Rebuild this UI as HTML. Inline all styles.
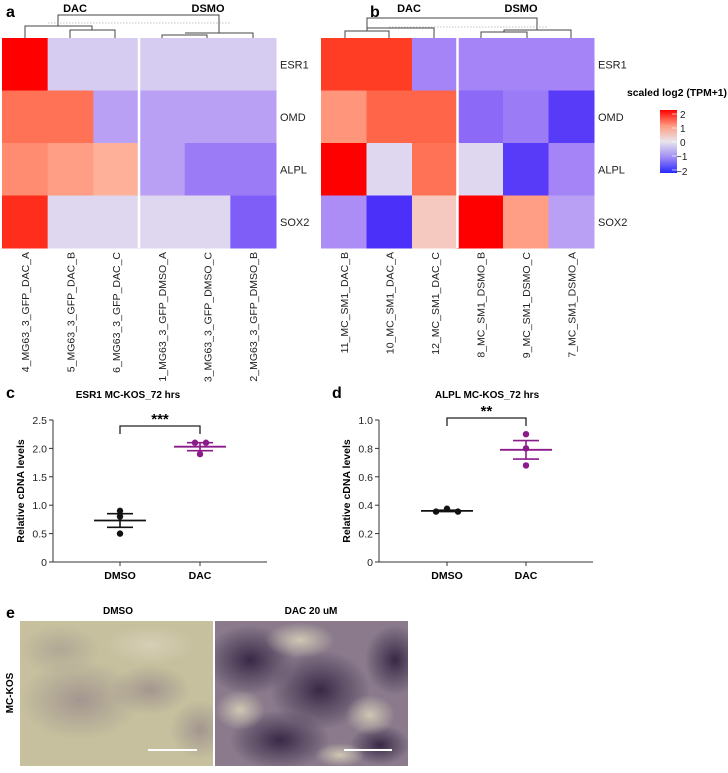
<!DOCTYPE html>
<html><head><meta charset="utf-8"><style>
body{margin:0;background:#fff;width:728px;height:768px;overflow:hidden}
svg{font-family:"Liberation Sans",Arial,sans-serif}
</style></head><body>
<svg id="fig" width="728" height="768" viewBox="0 0 728 768">
<defs>
<linearGradient id="cbar" x1="0" y1="1" x2="0" y2="0">
<stop offset="0" stop-color="#2828ff"/><stop offset="0.25" stop-color="#a08cf4"/><stop offset="0.5" stop-color="#e8e4ec"/><stop offset="0.75" stop-color="#ff9a80"/><stop offset="1" stop-color="#ff0000"/>
</linearGradient>
<radialGradient id="dm1" cx="0.5" cy="0.5" r="0.5"><stop offset="0" stop-color="#8c7a86" stop-opacity="0.6"/><stop offset="1" stop-color="#8c7a86" stop-opacity="0"/></radialGradient>
<radialGradient id="dk1" cx="0.5" cy="0.5" r="0.5"><stop offset="0" stop-color="#2a1a3a" stop-opacity="0.85"/><stop offset="1" stop-color="#2a1a3a" stop-opacity="0"/></radialGradient>
<radialGradient id="lt1" cx="0.5" cy="0.5" r="0.5"><stop offset="0" stop-color="#d8d0b8" stop-opacity="0.9"/><stop offset="1" stop-color="#d8d0b8" stop-opacity="0"/></radialGradient>
<clipPath id="clipL"><rect x="20" y="621" width="193" height="145"/></clipPath>
<clipPath id="clipR"><rect x="215" y="621" width="193" height="145"/></clipPath>
</defs>
<g id="heatA"></g>
<g id="heatB"></g>
<g id="legend">
<text x="627" y="96" font-size="10.5" font-weight="bold" textLength="100" lengthAdjust="spacingAndGlyphs">scaled log2 (TPM+1)</text>
<rect x="660" y="110" width="17" height="63" fill="url(#cbar)"/>
<g font-size="10" fill="#222">
<text x="680" y="118">2</text><text x="680" y="132">1</text><text x="680" y="146">0</text><text x="676" y="160">−1</text><text x="676" y="175">−2</text>
</g>
<g stroke="#fff" stroke-width="0.8" opacity="0.8"><line x1="672" y1="114" x2="677" y2="114"/><line x1="672" y1="128" x2="677" y2="128"/><line x1="672" y1="142" x2="677" y2="142"/><line x1="672" y1="156" x2="677" y2="156"/><line x1="672" y1="170" x2="677" y2="170"/></g>
</g>
<g id="plotC"></g>
<g id="plotD"></g>
<g id="panelE">
<text x="6" y="618" font-size="16" font-weight="bold">e</text>
<text x="118" y="614" font-size="10" font-weight="bold" text-anchor="middle">DMSO</text>
<text x="311" y="614" font-size="10" font-weight="bold" text-anchor="middle">DAC 20 uM</text>
<text x="0" y="0" font-size="10" font-weight="bold" text-anchor="middle" transform="translate(13,693) rotate(-90)">MC-KOS</text>
<g clip-path="url(#clipL)">
<rect x="20" y="621" width="193" height="145" fill="#c6c09e"/>
<ellipse cx="80" cy="700" rx="60" ry="40" fill="url(#dm1)"/>
<ellipse cx="150" cy="690" rx="40" ry="25" fill="url(#dm1)"/>
<ellipse cx="60" cy="650" rx="40" ry="25" fill="url(#dm1)" opacity="0.6"/>
<ellipse cx="200" cy="730" rx="30" ry="30" fill="url(#dm1)"/>
<ellipse cx="150" cy="645" rx="45" ry="20" fill="url(#lt1)"/>
<line x1="148" y1="750" x2="197" y2="750" stroke="#fff" stroke-width="2"/>
</g>
<g clip-path="url(#clipR)">
<rect x="215" y="621" width="193" height="145" fill="#8a7a8c"/>
<ellipse cx="250" cy="660" rx="45" ry="35" fill="url(#dk1)"/>
<ellipse cx="320" cy="690" rx="50" ry="40" fill="url(#dk1)"/>
<ellipse cx="280" cy="740" rx="50" ry="30" fill="url(#dk1)"/>
<ellipse cx="395" cy="660" rx="30" ry="35" fill="url(#dk1)"/>
<ellipse cx="380" cy="745" rx="30" ry="20" fill="url(#dk1)"/>
<ellipse cx="300" cy="640" rx="35" ry="18" fill="url(#lt1)"/>
<ellipse cx="370" cy="715" rx="25" ry="20" fill="url(#lt1)"/>
<ellipse cx="240" cy="710" rx="25" ry="20" fill="url(#lt1)"/>
<ellipse cx="340" cy="755" rx="25" ry="12" fill="url(#lt1)"/>
<line x1="344" y1="750" x2="392" y2="750" stroke="#fff" stroke-width="2"/>
</g>
</g>
</svg>
<script>
const NS='http://www.w3.org/2000/svg';
function mk(p,t,a){const e=document.createElementNS(NS,t);for(const k in a)e.setAttribute(k,a[k]);p.appendChild(e);return e;}
// ---- heatmap data ----
const genes=['ESR1','OMD','ALPL','SOX2'];
const samplesA=['4_MG63_3_GFP_DAC_A','5_MG63_3_GFP_DAC_B','6_MG63_3_GFP_DAC_C','1_MG63_3_GFP_DMSO_A','3_MG63_3_GFP_DMSO_C','2_MG63_3_GFP_DMSO_B'];
const valuesA=[[2,-0.4,-0.4,-0.4,-0.4,-0.4],[1.2,1.2,-0.9,-0.9,-0.9,-0.9],[1.0,0.8,0.6,-0.9,-1.3,-1.3],[1.7,-0.2,-0.2,-0.2,-0.2,-1.6]];
const samplesB=['11_MC_SM1_DAC_B','10_MC_SM1_DAC_A','12_MC_SM1_DAC_C','8_MC_SM1_DSMO_B','9_MC_SM1_DSMO_C','7_MC_SM1_DSMO_A'];
const valuesB=[[1.6,1.6,-1.2,-1.2,-1.2,-1.2],[0.9,1.3,1.3,-1.5,-1.3,-1.9],[2,-0.2,1.2,-0.2,-1.9,-1.2],[-1.1,-2,0.3,2,0.8,-0.9]];
const stops=[[-2,[75,48,250]],[-1.5,[140,105,247]],[-1,[180,150,245]],[-0.5,[210,198,242]],[0,[232,226,238]],[0.5,[255,185,162]],[1,[255,140,112]],[1.5,[255,75,45]],[2,[255,0,0]]];
function col(v){v=Math.max(-2,Math.min(2,v));for(let i=0;i<stops.length-1;i++){const[a,ca]=stops[i],[b,cb]=stops[i+1];if(v<=b){const t=(v-a)/(b-a);return 'rgb('+ca.map((c,j)=>Math.round(c+(cb[j]-c)*t)).join(',')+')';}}return 'rgb(255,0,0)';}
function heat(g,x0,w,vals,samples,label){
  const y0=38,h=210,cw=w/6,rh=h/4;
  vals.forEach((row,r)=>row.forEach((v,c)=>{
    const e=mk(g,'rect',{x:x0+c*cw,y:y0+r*rh,width:cw+0.5,height:rh+0.5,fill:col(v)});
    
    
  }));
  mk(g,'line',{x1:x0+3*cw,y1:y0,x2:x0+3*cw,y2:y0+h,stroke:'#fff','stroke-width':2.5});
  genes.forEach((n,r)=>{const t=mk(g,'text',{x:x0+w+4,y:y0+r*rh+rh/2+4,'font-size':11,fill:'#222'});t.textContent=n;
    
    });
  samples.forEach((n,c)=>{const cx=x0+c*cw+cw/2+4;const t=mk(g,'text',{x:0,y:0,'font-size':10.5,fill:'#222','text-anchor':'end',transform:'translate('+cx+',252) rotate(-90)'});t.textContent=n;
    
    });
  const p=mk(g,'text',{x:label=='a'?6:370,y:17,'font-size':16,'font-weight':'bold'});p.textContent=label;
  
  
}
const hA=document.getElementById('heatA'),hB=document.getElementById('heatB');
heat(hA,2,274,valuesA,samplesA,'a');heat(hB,321,273,valuesB,samplesB,'b');
function dendro(g,segs,dot,labels){
  const d=segs.map(s=>'M'+s[0]+' '+s[1]+'V'+s[2]+'H'+s[3]+'V'+s[4]).join('');
  const e=mk(g,'path',{d:d,fill:'none',stroke:'#444','stroke-width':1});
  
  
  mk(g,'line',{x1:dot[0],y1:dot[2],x2:dot[1],y2:dot[2],stroke:'#888','stroke-width':0.6,'stroke-dasharray':'1.5,1.5'});
  labels.forEach(l=>{const t=mk(g,'text',{x:l[1],y:12,'font-size':11,'font-weight':'bold','text-anchor':'middle'});t.textContent=l[0];
    
    });
}
dendro(hA,[[58,26,15,219,33],[25,38,26,92,30],[70,38,30,115,38],[185,33,33,253,38],[162,38,35,207,38]],[48,230,23],[['DAC',75],['DSMO',208]]);
dendro(hB,[[367,28,18,537,30],[345,38,31,389,38],[367,31,28,434,38],[504,32,30,571,38],[481,38,32,527,38]],[389,548,27],[['DAC',409],['DSMO',521]]);
// ---- dot plots ----
const groups=['DMSO','DAC'];
const esr1Points=[[0.9,0.8,0.5],[2.1,2.1,1.9]];
const esr1Mean=[0.73,2.03];
const esr1Sem=[0.12,0.07];
const esr1Ticks=[0,0.5,1.0,1.5,2.0,2.5];
const alplPoints=[[0.355,0.375,0.355],[0.9,0.8,0.68]];
const alplMean=[0.36,0.79];
const alplSem=[0.005,0.065];
const alplTicks=[0,0.2,0.4,0.6,0.8,1.0];
function dot(g,o){
  const y=v=>o.yb-(v/o.max)*(o.yb-o.yt);
  const x=i=>o.gx[i];
  mk(g,'path',{d:'M'+o.ax+' '+o.yt+'V'+o.yb+'H'+o.xe,fill:'none',stroke:'#333','stroke-width':1});
  o.ticks.forEach(t=>{mk(g,'line',{x1:o.ax-4,y1:y(t),x2:o.ax,y2:y(t),stroke:'#333'});
    const tx=mk(g,'text',{x:o.ax-6,y:y(t)+4,'font-size':10.5,fill:'#222','text-anchor':'end'});tx.textContent=t==0?'0':t.toFixed(1);
    
    });
  groups.forEach((gn,i)=>{mk(g,'line',{x1:x(i),y1:o.yb,x2:x(i),y2:o.yb+4,stroke:'#333'});
    const t=mk(g,'text',{x:x(i),y:o.yb+17,'font-size':10.5,'font-weight':'bold','text-anchor':'middle'});t.textContent=gn;
    
    
    const c=i==0?'#111':'#8b1a8b';
    const m=o.mean[i],s=o.sem[i];
    mk(g,'line',{x1:x(i)-26,y1:y(m),x2:x(i)+26,y2:y(m),stroke:c,'stroke-width':1.8});
    mk(g,'path',{d:'M'+(x(i)-13)+' '+y(m+s)+'H'+(x(i)+13)+'M'+(x(i)-13)+' '+y(m-s)+'H'+(x(i)+13)+'M'+x(i)+' '+y(m+s)+'V'+y(m-s),stroke:c,'stroke-width':1.6,fill:'none'});
    o.pts[i].forEach((v,k)=>{const e=mk(g,'circle',{cx:x(i)+o.off[i][k],cy:y(v),r:3.2,fill:c});
      
      });
  });
  mk(g,'path',{d:'M'+x(0)+' '+(o.br+8)+'V'+o.br+'H'+x(1)+'V'+(o.br+8),fill:'none',stroke:'#222','stroke-width':1.3});
  const st=mk(g,'text',{x:(x(0)+x(1))/2,y:o.br-2,'font-size':15,'font-weight':'bold','text-anchor':'middle'});st.textContent=o.stars;
  
  
  const tt=mk(g,'text',{x:o.tx,y:398,'font-size':10,'font-weight':'bold','text-anchor':'middle'});tt.textContent=o.title;
  
  
  const yl=mk(g,'text',{x:0,y:0,'font-size':10.5,'font-weight':'bold','text-anchor':'middle',transform:'translate('+(o.ax-29)+','+((o.yt+o.yb)/2)+') rotate(-90)'});yl.textContent='Relative cDNA levels';
  
  
  const pl=mk(g,'text',{x:o.ax-47,y:398,'font-size':16,'font-weight':'bold'});pl.textContent=o.label;
  
  
}
dot(document.getElementById('plotC'),{ax:53,xe:267,yt:420,yb:562,max:2.5,gx:[120,200],ticks:esr1Ticks,pts:esr1Points,mean:esr1Mean,sem:esr1Sem,off:[[0,0,0],[-5,6,0]],br:426,stars:'***',title:'ESR1 MC-KOS_72 hrs',tx:128,label:'c'});
dot(document.getElementById('plotD'),{ax:379,xe:593,yt:420,yb:562,max:1.0,gx:[447,526],ticks:alplTicks,pts:alplPoints,mean:alplMean,sem:alplSem,off:[[-11,0,11],[0,0,0]],br:418,stars:'**',title:'ALPL MC-KOS_72 hrs',tx:487,label:'d'});
</script>
</body></html>
